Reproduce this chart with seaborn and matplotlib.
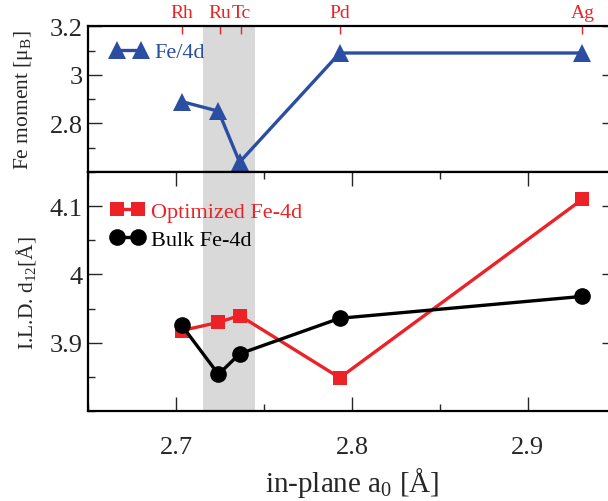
import matplotlib
matplotlib.use("Agg")
import matplotlib.pyplot as plt
import seaborn as sns
import numpy as np
from matplotlib.ticker import MultipleLocator

sns.set_style("ticks")
plt.rcParams['font.family'] = ['Liberation Serif', 'DejaVu Serif']
plt.rcParams['mathtext.fontset'] = 'custom'
plt.rcParams['mathtext.rm'] = 'Liberation Serif'
plt.rcParams['mathtext.it'] = 'Liberation Serif:italic'
plt.rcParams['mathtext.bf'] = 'Liberation Serif:bold'

# ---- data ----
elements = ["Rh", "Ru", "Tc", "Pd", "Ag"]
element_a0 = [2.703, 2.725, 2.737, 2.793, 2.931]
a0 = [2.703, 2.724, 2.736, 2.793, 2.931]
fe_moment = [2.89, 2.85, 2.64, 3.09, 3.09]
ild_optimized = [3.918, 3.930, 3.940, 3.849, 4.110]
ild_bulk = [3.926, 3.854, 3.884, 3.936, 3.968]
band = [2.715, 2.745]

blue = "#2b4ea3"
red = "#ec2227"
black = "#000000"

fig = plt.figure(figsize=(6.08, 5.02), dpi=100)
ax1 = fig.add_axes([0.1454, 0.6556, 0.8674, 0.2900])
ax2 = fig.add_axes([0.1454, 0.1787, 0.8674, 0.4769])

for ax in (ax1, ax2):
    ax.axvspan(band[0], band[1], color="#d9d9d9", lw=0, zorder=0)
    ax.set_xlim(2.65, 2.95)
    for s in ax.spines.values():
        s.set_linewidth(1.6)
        s.set_color("black")

sns.lineplot(x=a0, y=fe_moment, ax=ax1, color=blue, marker="^", markersize=13,
             markeredgewidth=0, linewidth=2.4, label="Fe/4d")
sns.lineplot(x=a0, y=ild_optimized, ax=ax2, color=red, marker="s", markersize=10.5,
             markeredgewidth=0, linewidth=2.4, label="Optimized Fe-4d")
sns.lineplot(x=a0, y=ild_bulk, ax=ax2, color=black, marker="o", markersize=12,
             markeredgewidth=0, linewidth=2.4, label="Bulk Fe-4d")

# top panel axes
ax1.set_ylim(2.6, 3.2)
ax1.yaxis.set_minor_locator(MultipleLocator(0.1))
ax1.set_yticks([2.8, 3.0, 3.2])
ax1.set_yticklabels(["2.8", "3", "3.2"])
ax1.xaxis.tick_top()
ax1.set_xticks(element_a0)
ax1.set_xticklabels(elements)
ax1.tick_params(axis='x', which='major', direction='in', length=6, width=1,
                color=red, labelcolor=red, labelsize=14, pad=4, top=True, bottom=False)
ax1.tick_params(axis='x', which='minor', top=False, bottom=False)
ax1.set_xlabel("")
ax1.set_ylabel("Fe moment [μ$_\\mathrm{B}$]", fontsize=15.5)

# bottom panel axes
ax2.set_ylim(3.8, 4.15)
ax2.set_yticks([3.9, 4.0, 4.1])
ax2.set_yticklabels(["3.9", "4", "4.1"])
ax2.yaxis.set_minor_locator(MultipleLocator(0.05))
ax2.set_xticks([2.7, 2.8, 2.9])
ax2.set_xticklabels(["2.7", "2.8", "2.9"])
ax2.xaxis.set_minor_locator(MultipleLocator(0.05))
ax2.tick_params(axis='x', which='both', direction='in', top=True, bottom=True, width=1)
ax2.tick_params(axis='x', which='major', length=10, labelsize=19, pad=18)
ax2.tick_params(axis='x', which='minor', length=5)
ax2.set_xlabel("in-plane a$_0$ [Å]", fontsize=21, labelpad=5)
ax2.set_ylabel("I.L.D. d$_{12}$[Å]", fontsize=15.5)

for ax in (ax1, ax2):
    ax.tick_params(axis='y', which='both', direction='in', left=True, right=True, width=1)
    ax.tick_params(axis='y', which='major', length=10, labelsize=19, pad=4)
    ax.tick_params(axis='y', which='minor', length=5, right=False)

ax1.yaxis.set_label_coords(-0.101, 0.5)
ax2.yaxis.set_label_coords(-0.095, 0.5)

leg1 = ax1.legend(loc="upper left", bbox_to_anchor=(0.025, 0.955), frameon=False,
                  fontsize=16, numpoints=2, handlelength=1.66, handletextpad=0.3,
                  borderaxespad=0, labelcolor="linecolor")
leg2 = ax2.legend(loc="upper left", bbox_to_anchor=(0.025, 0.913), frameon=False,
                  fontsize=16, numpoints=2, handlelength=1.54, handletextpad=0.3,
                  labelspacing=0.33, borderaxespad=0, labelcolor="linecolor")

fig.savefig("out.png", dpi=100)
